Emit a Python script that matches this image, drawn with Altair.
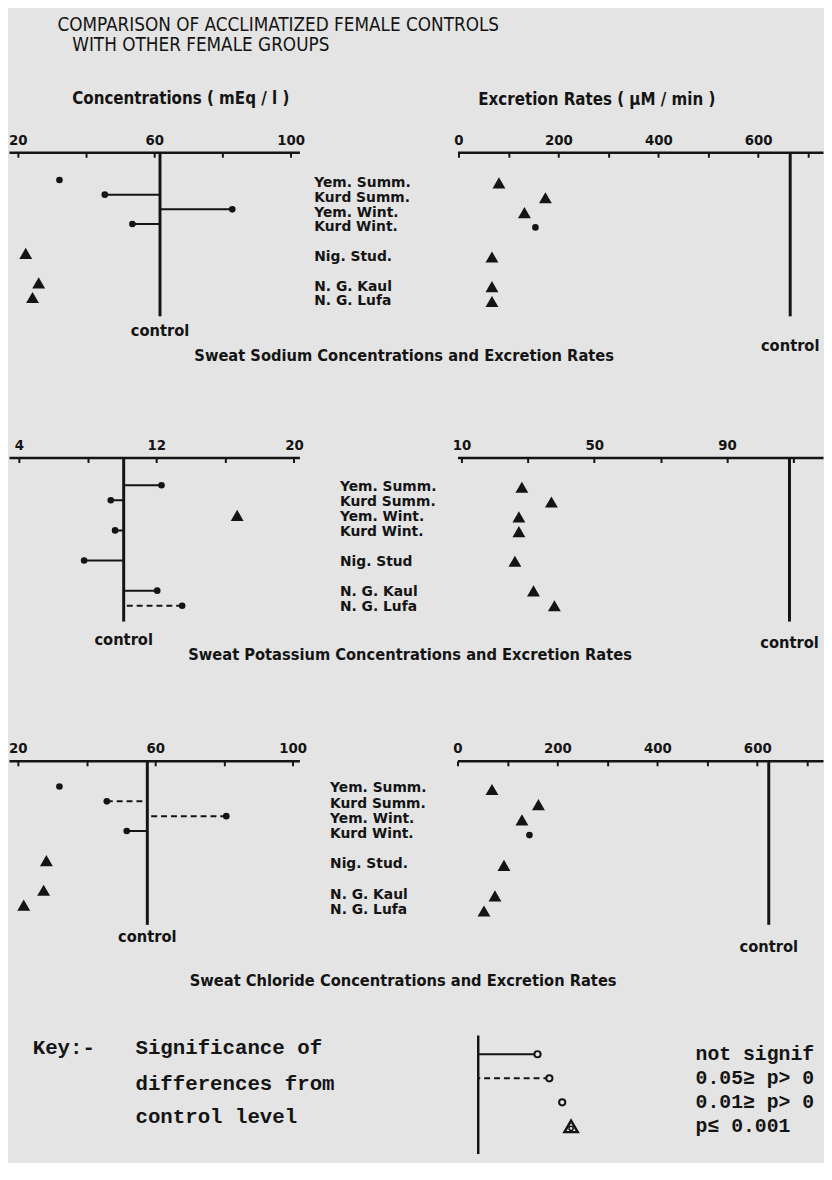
import altair as alt
import pandas as pd

# ---------------- data ----------------
groups = ["Yem. Summ.", "Kurd Summ.", "Yem. Wint.", "Kurd Wint.", "Nig. Stud.", "N. G. Kaul", "N. G. Lufa"]
row_slots = ["Yem. Summ.", "Kurd Summ.", "Yem. Wint.", "Kurd Wint.", "gap_a", "Nig. Stud.", "gap_b", "N. G. Kaul", "N. G. Lufa"]

na_labels = ["Yem. Summ.", "Kurd Summ.", "Yem. Wint.", "Kurd Wint.", "Nig. Stud.", "N. G. Kaul", "N. G. Lufa"]
k_labels = ["Yem. Summ.", "Kurd Summ.", "Yem. Wint.", "Kurd Wint.", "Nig. Stud", "N. G. Kaul", "N. G. Lufa"]
cl_labels = ["Yem. Summ.", "Kurd Summ.", "Yem. Wint.", "Kurd Wint.", "Nig. Stud.", "N. G. Kaul", "N. G. Lufa"]

# significance codes: ns = not significant, p05 = 0.05>=p>0.01, p01 = 0.01>=p>0.001, p001 = p<=0.001
na_conc = [32.2, 45.5, 82.9, 53.6, 22.3, 26.1, 24.3]
na_conc_sig = ["p01", "ns", "ns", "ns", "p001", "p001", "p001"]
na_conc_ctrl = 61.7
na_exc = [81, 174, 132, 154, 67, 67, 67]
na_exc_sig = ["p001", "p001", "p001", "p01", "p001", "p001", "p001"]
na_exc_ctrl = 664

k_conc = [12.3, 9.35, 16.7, 9.6, 7.8, 12.05, 13.5]
k_conc_sig = ["ns", "ns", "p001", "ns", "ns", "ns", "p05"]
k_conc_ctrl = 10.1
k_exc = [28.2, 37.1, 27.3, 27.3, 26.1, 31.7, 38.0]
k_exc_sig = ["p001", "p001", "p001", "p001", "p001", "p001", "p001"]
k_exc_ctrl = 108.8

cl_conc = [32.1, 45.9, 80.7, 51.7, 28.3, 27.5, 21.7]
cl_conc_sig = ["p01", "p05", "p05", "ns", "p001", "p001", "p001"]
cl_conc_ctrl = 57.7
cl_exc = [69, 162, 129, 144, 93, 75, 53]
cl_exc_sig = ["p001", "p001", "p001", "p01", "p001", "p001", "p001"]
cl_exc_ctrl = 623

conc_labels = [20, 60, 100]
conc_ticks = [20, 40, 60, 80, 100]
k_conc_labels = [4, 12, 20]
k_conc_ticks = [4, 8, 12, 16, 20]
exc_labels = [0, 200, 400, 600]
exc_ticks = [0, 100, 200, 300, 400, 500, 600, 700]
k_exc_labels = [10, 50, 90]
k_exc_ticks = [10, 30, 50, 70, 90, 110]

# key texts as far as they are visible at the page edge in the original
key_items = ["not signif", "0.05\u2265 p> 0", "0.01\u2265 p> 0", "p\u2264 0.001"]
key_sig = ["ns", "p05", "p01", "p001"]
key_offset = [60, 72, 85, 94]

# ---------------- style ----------------
INK = "#141414"
BG = "#e4e4e4"
COND = "DejaVu Sans Condensed, Liberation Sans Narrow, Roboto Condensed, Roboto, sans-serif"
SANS = "DejaVu Sans, Liberation Sans, sans-serif"
MONO = "Liberation Mono, DejaVu Sans Mono, monospace"

W_LEFT, W_MID, W_RIGHT = 294, 160, 370


def txt(s, x, y, size, font=COND, weight="bold", align="left"):
    return alt.Chart(pd.DataFrame({"t": [s]})).mark_text(
        align=align, baseline="middle", font=font, fontSize=size,
        fontWeight=weight, color=INK
    ).encode(x=alt.value(x), y=alt.value(y), text="t:N")


def spacer(w, h):
    return txt("", w / 2, h / 2, 4).properties(width=w, height=h)


def point_scale(domain, rng):
    return alt.Scale(type="point", domain=domain, range=rng, padding=0)


def panel(values, sig, ctrl, domain, label_vals, tick_vals, width, height, y_range, ctrl_dy):
    df = pd.DataFrame({"group": groups, "value": values, "sig": sig, "ctrl": ctrl})
    xs = alt.Scale(domain=domain, nice=False, zero=False)
    ys = point_scale(row_slots, y_range)
    yenc = alt.Y("group:N", scale=ys, axis=None)
    main_axis = alt.Axis(orient="top", values=label_vals, ticks=False, tickSize=0,
                         domainWidth=2.5, domainColor=INK, labelFont=COND,
                         labelFontSize=15, labelFontWeight="bold", labelColor=INK,
                         labelPadding=5, labelFlush=False, labelOverlap=False,
                         grid=False, title=None)
    tick_axis = alt.Axis(orient="bottom", offset=-height, values=tick_vals, domain=False,
                         labels=False, ticks=True, tickSize=5, tickWidth=2,
                         tickColor=INK, grid=False, title=None)
    cdf = pd.DataFrame({"c": [ctrl]})
    base = alt.Chart(df)

    axis_layer = base.mark_point(opacity=0).encode(
        x=alt.X("value:Q", scale=xs, axis=main_axis), y=yenc)
    tick_layer = base.mark_point(opacity=0).encode(
        x=alt.X("value:Q", scale=xs, axis=tick_axis), y=yenc)
    ctrl_rule = alt.Chart(cdf).mark_rule(strokeWidth=3, color=INK).encode(
        x=alt.X("c:Q", scale=xs, axis=None))
    lines = base.transform_filter(
        alt.FieldOneOfPredicate(field="sig", oneOf=["ns", "p05"])
    ).mark_rule(strokeWidth=2, color=INK).encode(
        x=alt.X("value:Q", scale=xs, axis=None),
        x2="ctrl:Q",
        y=yenc,
        strokeDash=alt.StrokeDash("sig:N", scale=alt.Scale(domain=["ns", "p05"], range=[[1, 0], [6, 4]]), legend=None),
    )
    dots = base.transform_filter(
        alt.FieldOneOfPredicate(field="sig", oneOf=["ns", "p05", "p01"])
    ).mark_circle(size=45, color=INK, opacity=1).encode(
        x=alt.X("value:Q", scale=xs, axis=None), y=yenc)
    tris = base.transform_filter(
        alt.FieldOneOfPredicate(field="sig", oneOf=["p001"])
    ).mark_point(shape="triangle-up", filled=True, size=170, color=INK, opacity=1).encode(
        x=alt.X("value:Q", scale=xs, axis=None), y=yenc)
    ctrl_text = alt.Chart(cdf).mark_text(
        text="control", font=COND, fontSize=16.5, fontWeight="bold", color=INK, baseline="middle"
    ).encode(x=alt.X("c:Q", scale=xs, axis=None), y=alt.value(height + ctrl_dy))
    return alt.layer(axis_layer, tick_layer, ctrl_rule, lines, dots, tris, ctrl_text).resolve_axis(
        x="independent").properties(width=width, height=height)


def labels_chart(labels, x_off, height, y_range):
    df = pd.DataFrame({"group": groups, "label": labels})
    return alt.Chart(df).mark_text(
        align="left", baseline="middle", font=SANS, fontSize=14, fontWeight="bold", color=INK
    ).encode(
        x=alt.value(x_off),
        y=alt.Y("group:N", scale=point_scale(row_slots, y_range), axis=None),
        text="label:N",
    ).properties(width=W_MID, height=height)


# ---------------- rows (flat grid, 3 columns) ----------------
H_HEAD, H_NA, H_G1, H_K, H_G2, H_CL, H_SUB3, H_KEY = 138, 166, 143, 166, 141, 166, 112, 120

hdrL = alt.layer(
    txt("COMPARISON OF ACCLIMATIZED FEMALE CONTROLS", 49, 9.5, 19, weight="normal"),
    txt("WITH OTHER FEMALE GROUPS", 64, 29.5, 19, weight="normal"),
    txt("Concentrations ( mEq / l )", 64, 84, 17),
).properties(width=W_LEFT, height=H_HEAD)
hdrM = spacer(W_MID, H_HEAD)
hdrR = txt("Excretion Rates ( \u00b5M / min )", 21, 85, 17).properties(width=W_RIGHT, height=H_HEAD)

naL = panel(na_conc, na_conc_sig, na_conc_ctrl, [17.39, 102.61], conc_labels, conc_ticks, W_LEFT, H_NA, [28, 147], 15)
naLab = labels_chart(na_labels, 15, H_NA, [31, 151])
naR = panel(na_exc, na_exc_sig, na_exc_ctrl, [-1.98, 729.7], exc_labels, exc_ticks, W_RIGHT, H_NA, [31, 151], 30)

g1L = spacer(W_LEFT, H_G1)
sub1 = txt("Sweat Sodium Concentrations and Excretion Rates", 106, 40, 16.5, align="center").properties(width=W_MID, height=H_G1)
g1R = spacer(W_RIGHT, H_G1)

kL = panel(k_conc, k_conc_sig, k_conc_ctrl, [3.43, 20.32], k_conc_labels, k_conc_ticks, W_LEFT, H_K, [28, 150], 19)
kLab = labels_chart(k_labels, 41, H_K, [30, 151])
kR = panel(k_exc, k_exc_sig, k_exc_ctrl, [8.81, 118.9], k_exc_labels, k_exc_ticks, W_RIGHT, H_K, [30, 150], 22)

g2L = spacer(W_LEFT, H_G2)
sub2 = txt("Sweat Potassium Concentrations and Excretion Rates", 112, 34, 16.5, align="center").properties(width=W_MID, height=H_G2)
g2R = spacer(W_RIGHT, H_G2)

clL = panel(cl_conc, cl_conc_sig, cl_conc_ctrl, [17.41, 102.0], conc_labels, conc_ticks, W_LEFT, H_CL, [26, 146], 12)
clLab = labels_chart(cl_labels, 31, H_CL, [28, 151])
clR = panel(cl_exc, cl_exc_sig, cl_exc_ctrl, [0.0, 731.6], exc_labels, exc_ticks, W_RIGHT, H_CL, [29, 152], 22)

sub3 = txt("Sweat Chloride Concentrations and Excretion Rates", 399, 57, 16.5, align="center").properties(width=W_LEFT, height=H_SUB3)
s3M = spacer(W_MID, H_SUB3)
s3R = spacer(W_RIGHT, H_SUB3)

# ---------------- key ----------------
key_text = alt.layer(
    txt("Key:-", 24, 13, 21, font=MONO),
    txt("Significance of", 128, 13, 21, font=MONO),
    txt("differences from", 128, 49, 21, font=MONO),
    txt("control level", 128, 83, 21, font=MONO),
).properties(width=W_LEFT, height=H_KEY)
keyM = spacer(W_MID, H_KEY)

kdf = pd.DataFrame({"item": key_items, "sig": key_sig, "off": key_offset, "zero": 0})
kxs = alt.Scale(domain=[-21, 349], nice=False, zero=False)
kys = point_scale(key_items, [19, 92])
kbase = alt.Chart(kdf)
k_rule = alt.Chart(pd.DataFrame({"c": [0]})).mark_rule(strokeWidth=2.5, color=INK).encode(
    x=alt.X("c:Q", scale=kxs, axis=None))
k_lines = kbase.transform_filter(
    alt.FieldOneOfPredicate(field="sig", oneOf=["ns", "p05"])
).mark_rule(strokeWidth=2, color=INK).encode(
    x=alt.X("off:Q", scale=kxs, axis=None), x2="zero:Q",
    y=alt.Y("item:N", scale=kys, axis=None),
    strokeDash=alt.StrokeDash("sig:N", scale=alt.Scale(domain=["ns", "p05"], range=[[1, 0], [5, 3]]), legend=None),
)
k_circ = kbase.transform_filter(
    alt.FieldOneOfPredicate(field="sig", oneOf=["ns", "p05", "p01"])
).mark_point(shape="circle", filled=True, fill=BG, stroke=INK, strokeWidth=2, size=40, opacity=1).encode(
    x=alt.X("off:Q", scale=kxs, axis=None), y=alt.Y("item:N", scale=kys, axis=None))
k_tri = kbase.transform_filter(
    alt.FieldOneOfPredicate(field="sig", oneOf=["p001"])
).mark_point(shape="triangle-up", filled=False, stroke=INK, strokeWidth=2.5, size=180, opacity=1).encode(
    x=alt.X("off:Q", scale=kxs, axis=None), y=alt.Y("item:N", scale=kys, axis=None))
k_tri_in = kbase.transform_filter(
    alt.FieldOneOfPredicate(field="sig", oneOf=["p001"])
).mark_point(shape="circle", filled=False, stroke=INK, strokeWidth=1.5, size=18, opacity=1, yOffset=2).encode(
    x=alt.X("off:Q", scale=kxs, axis=None), y=alt.Y("item:N", scale=kys, axis=None))
k_txt = kbase.mark_text(align="left", baseline="middle", font=MONO, fontSize=20, fontWeight="bold",
                        color=INK).encode(
    x=alt.value(241), y=alt.Y("item:N", scale=kys, axis=None), text="item:N")
key_glyph = alt.layer(k_rule, k_lines, k_circ, k_tri, k_tri_in, k_txt).properties(width=W_RIGHT, height=H_KEY)

cells = [
    hdrL, hdrM, hdrR,
    naL, naLab, naR,
    g1L, sub1, g1R,
    kL, kLab, kR,
    g2L, sub2, g2R,
    clL, clLab, clR,
    sub3, s3M, s3R,
    key_text, keyM, key_glyph,
]

chart = alt.concat(*cells, columns=3, spacing=0, bounds="flush", align="each").properties(
    padding=0, background=BG
).configure_view(stroke="transparent")

chart.save("out.html", embed_options={"renderer": "svg", "actions": False})
